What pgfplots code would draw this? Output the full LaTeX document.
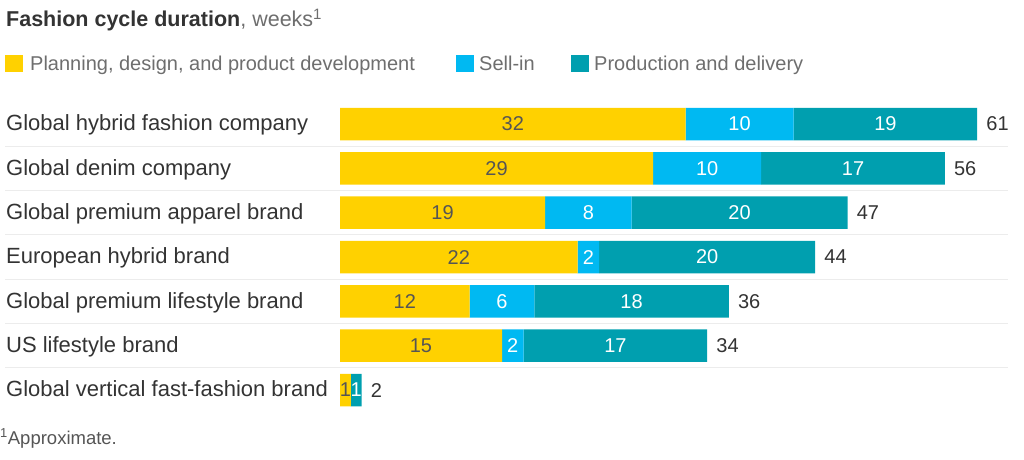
\documentclass[border=0pt]{standalone}
\usepackage{pgfplots}
\pgfplotsset{compat=1.18}
\usepackage{fontspec}
\setmainfont{Liberation Sans}
\definecolor{cyel}{RGB}{255,209,0}
\definecolor{cblue}{RGB}{0,185,242}
\definecolor{cteal}{RGB}{0,159,175}
\definecolor{ctext}{RGB}{51,51,51}
\definecolor{cnum}{RGB}{85,85,85}
\definecolor{clight}{RGB}{110,110,110}
\definecolor{csep}{RGB}{236,236,236}
\begin{document}
\begin{tikzpicture}
\path[use as bounding box] (0pt,0pt) rectangle (1024pt,-459pt);
\node[anchor=base west, inner sep=0pt, text=ctext, font=\fontsize{21.5}{24}\selectfont] at (6pt,-26.7pt) {\textbf{Fashion cycle duration}\textcolor{clight}{, weeks\textsuperscript{1}}};
\fill[cyel] (5pt,-55pt) rectangle (23pt,-72pt);
\node[anchor=base west, inner sep=0pt, text=clight, font=\fontsize{20}{24}\selectfont] at (30pt,-70.7pt) {Planning, design, and product development};
\fill[cblue] (456pt,-55pt) rectangle (474pt,-72pt);
\node[anchor=base west, inner sep=0pt, text=clight, font=\fontsize{20}{24}\selectfont] at (479pt,-70.7pt) {Sell-in};
\fill[cteal] (571pt,-55pt) rectangle (589pt,-72pt);
\node[anchor=base west, inner sep=0pt, text=clight, font=\fontsize{20}{24}\selectfont] at (594pt,-70.7pt) {Production and delivery};
\node[anchor=base west, inner sep=0pt, text=cnum, font=\fontsize{18.5}{22}\selectfont] at (0pt,-444pt) {\textsuperscript{1}Approximate.};
\begin{axis}[
  at={(340pt,-412.17pt)}, anchor=south west,
  scale only axis, width=669.6pt, height=310.33pt,
  xmin=0, xmax=62, ymin=-0.5, ymax=6.5, y dir=reverse,
  xbar stacked, bar width=32.5pt, stacked ignores zero=false,
  axis line style={draw=none}, major tick length=0pt,
  xtick=\empty, ytick={0,1,2,3,4,5,6},
  yticklabels={Global hybrid fashion company, Global denim company, Global premium apparel brand, European hybrid brand, Global premium lifestyle brand, US lifestyle brand, Global vertical fast-fashion brand},
  yticklabel style={anchor=base west, inner sep=0pt, xshift=-334pt, yshift=-6.7pt, text=ctext, font=\fontsize{22}{26}\selectfont},
  clip=false,
  nodes near coords, point meta=explicit symbolic,
  every node near coord/.append style={font=\fontsize{20}{24}\selectfont, anchor=center, inner sep=0pt},
]
\addplot[fill=cyel, draw=none, every node near coord/.append style={text=cnum}] coordinates {(32,0)[32] (29,1)[29] (19,2)[19] (22,3)[22] (12,4)[12] (15,5)[15] (1,6)[1]};
\addplot[fill=cblue, draw=none, every node near coord/.append style={text=white}] coordinates {(10,0)[10] (10,1)[10] (8,2)[8] (2,3)[2] (6,4)[6] (2,5)[2] (0,6)[{}]};
\addplot[fill=cteal, draw=none, every node near coord/.append style={text=white}] coordinates {(17,0)[19] (17,1)[17] (20,2)[20] (20,3)[20] (18,4)[18] (17,5)[17] (1,6)[1]};
\addplot[fill=none, draw=none, every node near coord/.append style={anchor=west, xshift=9pt, text=ctext}] coordinates {(0,0)[61] (0,1)[56] (0,2)[47] (0,3)[44] (0,4)[36] (0,5)[34] (0,6)[2]};
\pgfplotsinvokeforeach{0.5,1.5,2.5,3.5,4.5,5.5}{\draw[csep, line width=1pt] (axis cs:-31.0,#1) -- (axis cs:61.85,#1);}
\end{axis}
\end{tikzpicture}
\end{document}
